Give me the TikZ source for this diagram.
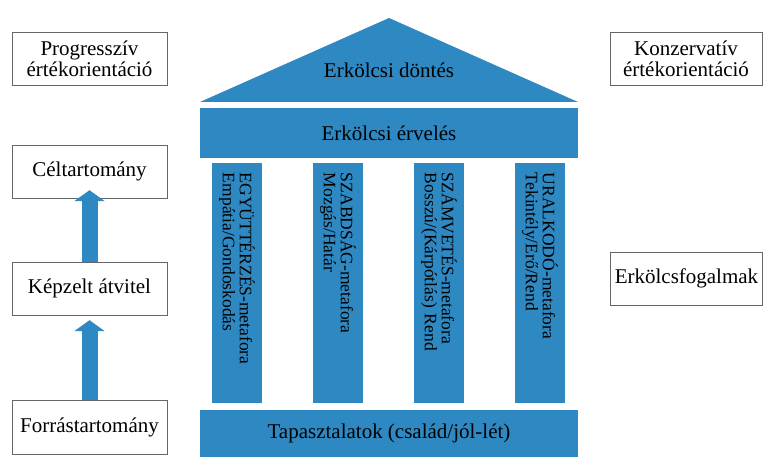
\documentclass[tikz,border=0pt]{standalone}
\usepackage{fontspec}
\setmainfont{Liberation Serif}
\usepackage{xcolor}
\usepackage{tikz}
\usetikzlibrary{arrows.meta}
\definecolor{oszlopkek}{RGB}{46,136,194}
\tikzstyle{keret} = [rectangle, draw=black!60, thin, minimum width=155pt, minimum height=53pt, align=center, font=\rmfamily\fontsize{21}{21}\selectfont]
\tikzstyle{kekdoboz} = [rectangle, fill=oszlopkek, minimum width=378pt, inner sep=0pt, font=\rmfamily\fontsize{21}{21}\selectfont]
\tikzstyle{oszlop} = [rectangle, fill=oszlopkek, rotate=-90, minimum width=240pt, minimum height=50pt, text width=220pt, inner xsep=10pt, inner ysep=2pt, align=left, font=\rmfamily\fontsize{17.5}{17}\selectfont]
\tikzstyle{nyil} = [draw=oszlopkek, line width=16pt, -{Triangle[width=30pt, length=11pt]}]

\begin{document}
\begin{tikzpicture}[x=1pt, y=-1pt]
    \useasboundingbox (0,0) rectangle (764,457);

    % templom
    \fill[oszlopkek] (200,102) -- (389,18) -- (578,102) -- cycle;
    \node (dontes) [font=\rmfamily\fontsize{21}{21}\selectfont] at (389,70) {Erkölcsi döntés};
    \node (erveles) [kekdoboz, minimum height=50pt] at (389,133) {Erkölcsi érvelés};

    \node (egyutterzes) [oszlop] at (237,283) {EGYÜTTÉRZÉS-metafora\\Empátia/Gondoskodás};
    \node (szabadsag) [oszlop] at (338,283) {SZABDSÁG-metafora\\Mozgás/Határ};
    \node (szamvetes) [oszlop] at (439,283) {SZÁMVETÉS-metafora\\Bosszú/(Kárpótlás) Rend};
    \node (uralkodo) [oszlop] at (540,283) {URALKODÓ-metafora\\Tekintély/Erő/Rend};

    \node (tapasztalat) [kekdoboz, minimum height=47pt] at (389,433.5) {Tapasztalatok (család/jól-lét)};

    % bal oldal
    \node (progressziv) [keret] at (89.5,58.5) {Progresszív\\értékorientáció};
    \node (cel) [keret] at (89.5,171.5) {Céltartomány};
    \node (kepzelt) [keret] at (89.5,288.5) {Képzelt átvitel};
    \node (forras) [keret, minimum height=54pt] at (89.5,427) {Forrástartomány};

    \draw[nyil, shorten >=-8pt] (kepzelt.north) -- (cel.south);
    \draw[nyil, shorten >=5pt] (forras.north) -- (kepzelt.south);

    % jobb oldal
    \node (konzervativ) [keret, minimum width=152pt] at (686,58.5) {Konzervatív\\értékorientáció};
    \node (fogalmak) [keret, minimum width=152pt] at (686.5,278.5) {Erkölcsfogalmak};
\end{tikzpicture}
\end{document}
